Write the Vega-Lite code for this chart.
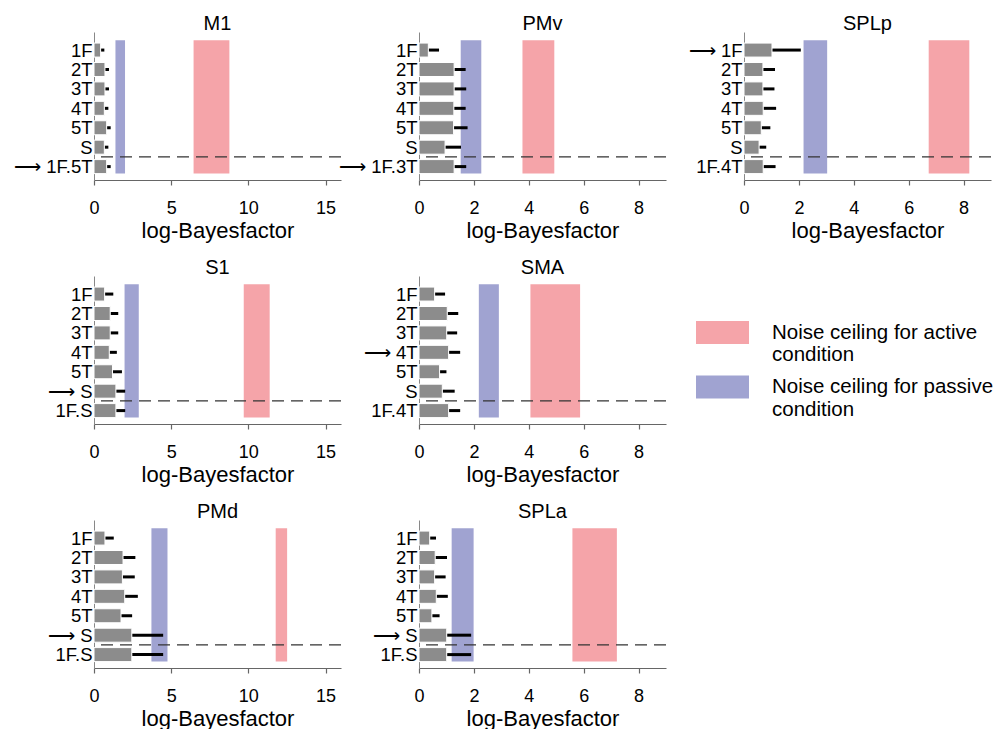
{
  "$schema": "https://vega.github.io/schema/vega-lite/v6.json",
  "padding": {"left": 13, "top": 14, "right": 0, "bottom": 0},
  "datasets": {
    "bars": [
      {"panel": "M1", "idx": 0, "model": "1F", "value": 0.43, "upper": 0.67},
      {"panel": "M1", "idx": 1, "model": "2T", "value": 0.71, "upper": 0.97},
      {"panel": "M1", "idx": 2, "model": "3T", "value": 0.71, "upper": 0.97},
      {"panel": "M1", "idx": 3, "model": "4T", "value": 0.67, "upper": 0.93},
      {"panel": "M1", "idx": 4, "model": "5T", "value": 0.82, "upper": 1.08},
      {"panel": "M1", "idx": 5, "model": "S", "value": 0.67, "upper": 0.93},
      {"panel": "M1", "idx": 6, "model": "1F.5T", "value": 0.82, "upper": 1.08},
      {"panel": "PMv", "idx": 0, "model": "1F", "value": 0.34, "upper": 0.73},
      {"panel": "PMv", "idx": 1, "model": "2T", "value": 1.28, "upper": 1.70},
      {"panel": "PMv", "idx": 2, "model": "3T", "value": 1.28, "upper": 1.72},
      {"panel": "PMv", "idx": 3, "model": "4T", "value": 1.27, "upper": 1.70},
      {"panel": "PMv", "idx": 4, "model": "5T", "value": 1.26, "upper": 1.77},
      {"panel": "PMv", "idx": 5, "model": "S", "value": 0.95, "upper": 1.53},
      {"panel": "PMv", "idx": 6, "model": "1F.3T", "value": 1.28, "upper": 1.72},
      {"panel": "SPLp", "idx": 0, "model": "1F", "value": 1.02, "upper": 2.07},
      {"panel": "SPLp", "idx": 1, "model": "2T", "value": 0.69, "upper": 1.13},
      {"panel": "SPLp", "idx": 2, "model": "3T", "value": 0.69, "upper": 1.11},
      {"panel": "SPLp", "idx": 3, "model": "4T", "value": 0.70, "upper": 1.17},
      {"panel": "SPLp", "idx": 4, "model": "5T", "value": 0.63, "upper": 0.96},
      {"panel": "SPLp", "idx": 5, "model": "S", "value": 0.55, "upper": 0.81},
      {"panel": "SPLp", "idx": 6, "model": "1F.4T", "value": 0.70, "upper": 1.15},
      {"panel": "S1", "idx": 0, "model": "1F", "value": 0.69, "upper": 1.25},
      {"panel": "S1", "idx": 1, "model": "2T", "value": 1.05, "upper": 1.57},
      {"panel": "S1", "idx": 2, "model": "3T", "value": 1.05, "upper": 1.57},
      {"panel": "S1", "idx": 3, "model": "4T", "value": 0.99, "upper": 1.48},
      {"panel": "S1", "idx": 4, "model": "5T", "value": 1.20, "upper": 1.81},
      {"panel": "S1", "idx": 5, "model": "S", "value": 1.42, "upper": 2.02},
      {"panel": "S1", "idx": 6, "model": "1F.S", "value": 1.42, "upper": 2.02},
      {"panel": "SMA", "idx": 0, "model": "1F", "value": 0.57, "upper": 0.95},
      {"panel": "SMA", "idx": 1, "model": "2T", "value": 1.03, "upper": 1.43},
      {"panel": "SMA", "idx": 2, "model": "3T", "value": 1.01, "upper": 1.39},
      {"panel": "SMA", "idx": 3, "model": "4T", "value": 1.08, "upper": 1.50},
      {"panel": "SMA", "idx": 4, "model": "5T", "value": 0.75, "upper": 1.00},
      {"panel": "SMA", "idx": 5, "model": "S", "value": 0.85, "upper": 1.30},
      {"panel": "SMA", "idx": 6, "model": "1F.4T", "value": 1.08, "upper": 1.50},
      {"panel": "PMd", "idx": 0, "model": "1F", "value": 0.71, "upper": 1.28},
      {"panel": "PMd", "idx": 1, "model": "2T", "value": 1.88, "upper": 2.68},
      {"panel": "PMd", "idx": 2, "model": "3T", "value": 1.84, "upper": 2.64},
      {"panel": "PMd", "idx": 3, "model": "4T", "value": 1.99, "upper": 2.84},
      {"panel": "PMd", "idx": 4, "model": "5T", "value": 1.75, "upper": 2.47},
      {"panel": "PMd", "idx": 5, "model": "S", "value": 2.45, "upper": 4.48},
      {"panel": "PMd", "idx": 6, "model": "1F.S", "value": 2.45, "upper": 4.48},
      {"panel": "SPLa", "idx": 0, "model": "1F", "value": 0.39, "upper": 0.62},
      {"panel": "SPLa", "idx": 1, "model": "2T", "value": 0.59, "upper": 1.02},
      {"panel": "SPLa", "idx": 2, "model": "3T", "value": 0.57, "upper": 0.97},
      {"panel": "SPLa", "idx": 3, "model": "4T", "value": 0.63, "upper": 1.05},
      {"panel": "SPLa", "idx": 4, "model": "5T", "value": 0.47, "upper": 0.75},
      {"panel": "SPLa", "idx": 5, "model": "S", "value": 1.01, "upper": 1.90},
      {"panel": "SPLa", "idx": 6, "model": "1F.S", "value": 1.01, "upper": 1.90}
    ],
    "ceil": [
      {"panel": "M1", "cond": "passive", "lo": 1.39, "hi": 2.01},
      {"panel": "M1", "cond": "active", "lo": 6.45, "hi": 8.77},
      {"panel": "PMv", "cond": "passive", "lo": 1.52, "hi": 2.27},
      {"panel": "PMv", "cond": "active", "lo": 3.77, "hi": 4.93},
      {"panel": "SPLp", "cond": "passive", "lo": 2.17, "hi": 3.03},
      {"panel": "SPLp", "cond": "active", "lo": 6.73, "hi": 8.21},
      {"panel": "S1", "cond": "passive", "lo": 1.98, "hi": 2.90},
      {"panel": "S1", "cond": "active", "lo": 9.70, "hi": 11.38},
      {"panel": "SMA", "cond": "passive", "lo": 2.18, "hi": 2.91},
      {"panel": "SMA", "cond": "active", "lo": 4.06, "hi": 5.87},
      {"panel": "PMd", "cond": "passive", "lo": 3.72, "hi": 4.76},
      {"panel": "PMd", "cond": "active", "lo": 11.77, "hi": 12.51},
      {"panel": "SPLa", "cond": "passive", "lo": 1.19, "hi": 1.99},
      {"panel": "SPLa", "cond": "active", "lo": 5.59, "hi": 7.21}
    ],
    "one": [{}]
  },
  "columns": 3,
  "bounds": "flush",
  "spacing": {"row": 96, "column": 78},
  "concat": [
    {
      "width": 247, "height": 148, "title": {"text": "M1", "offset": -2},
      "layer": [
        {"data": {"name": "ceil"}, "transform": [{"filter": "datum.panel == 'M1'"}], "mark": {"type": "rect"},
         "encoding": {
           "x": {"field": "lo", "type": "quantitative", "scale": {"domain": [0, 16], "nice": false, "zero": false}, "axis": {"values": [0, 5, 10, 15], "title": "log-Bayesfactor"}},
           "x2": {"field": "hi"},
           "y": {"datum": -0.5, "type": "quantitative", "scale": {"domain": [-0.93, 6.69], "nice": false, "zero": false, "padding": 0, "reverse": true}, "axis": {"values": [0, 1, 2, 3, 4, 5, 6], "title": null, "labelOverlap": false, "labelExpr": "['1F','2T','3T','4T','5T','S','\u27f6 1F.5T'][datum.value]"}},
           "y2": {"datum": 6.35},
           "color": {"field": "cond", "type": "nominal", "scale": {"domain": ["active", "passive"], "range": ["#f5a4a9", "#a0a3d1"]}, "legend": {"orient": "none", "legendX": 617, "legendY": 289, "title": null, "symbolType": "M-2.304,-1H2.304V1H-2.304Z", "symbolSize": 529, "symbolStrokeWidth": 0, "symbolOpacity": 1, "labelFontSize": 20.5, "labelOffset": 38, "rowPadding": 9.5, "labelLimit": 400, "labelExpr": "datum.value == 'active' ? ['Noise ceiling for active', 'condition'] : ['Noise ceiling for passive', 'condition']"}}
         }},
        {"data": {"name": "bars"}, "transform": [{"filter": "datum.panel == 'M1'"}], "mark": {"type": "rule", "strokeWidth": 3, "color": "black"},
         "encoding": {"x": {"field": "value", "type": "quantitative"}, "x2": {"field": "upper"}, "y": {"field": "idx", "type": "quantitative", "axis": {"values": [0, 1, 2, 3, 4, 5, 6], "title": null, "labelOverlap": false, "labelExpr": "['1F','2T','3T','4T','5T','S','\u27f6 1F.5T'][datum.value]"}}}},
        {"data": {"name": "bars"}, "transform": [{"filter": "datum.panel == 'M1'"}], "mark": {"type": "bar", "orient": "horizontal", "size": 14, "color": "#8c8c8c", "stroke": "white", "strokeWidth": 1},
         "encoding": {"x": {"field": "value", "type": "quantitative"}, "y": {"field": "idx", "type": "quantitative", "axis": {"values": [0, 1, 2, 3, 4, 5, 6], "title": null, "labelOverlap": false, "labelExpr": "['1F','2T','3T','4T','5T','S','\u27f6 1F.5T'][datum.value]"}}}},
        {"data": {"name": "one"}, "mark": {"type": "rule", "strokeDash": [12, 7], "color": "#333333", "strokeWidth": 1.3},
         "encoding": {"y": {"datum": 5.5, "type": "quantitative", "axis": {"values": [0, 1, 2, 3, 4, 5, 6], "title": null, "labelOverlap": false, "labelExpr": "['1F','2T','3T','4T','5T','S','\u27f6 1F.5T'][datum.value]"}}}}
      ]
    },
    {
      "width": 247, "height": 148, "title": {"text": "PMv", "offset": -2},
      "layer": [
        {"data": {"name": "ceil"}, "transform": [{"filter": "datum.panel == 'PMv'"}], "mark": {"type": "rect"},
         "encoding": {
           "x": {"field": "lo", "type": "quantitative", "scale": {"domain": [0, 9], "nice": false, "zero": false}, "axis": {"values": [0, 2, 4, 6, 8], "title": "log-Bayesfactor"}},
           "x2": {"field": "hi"},
           "y": {"datum": -0.5, "type": "quantitative", "scale": {"domain": [-0.93, 6.69], "nice": false, "zero": false, "padding": 0, "reverse": true}, "axis": {"values": [0, 1, 2, 3, 4, 5, 6], "title": null, "labelOverlap": false, "labelExpr": "['1F','2T','3T','4T','5T','S','\u27f6 1F.3T'][datum.value]"}},
           "y2": {"datum": 6.35},
           "color": {"field": "cond", "type": "nominal", "scale": {"domain": ["active", "passive"], "range": ["#f5a4a9", "#a0a3d1"]}}
         }},
        {"data": {"name": "bars"}, "transform": [{"filter": "datum.panel == 'PMv'"}], "mark": {"type": "rule", "strokeWidth": 3, "color": "black"},
         "encoding": {"x": {"field": "value", "type": "quantitative"}, "x2": {"field": "upper"}, "y": {"field": "idx", "type": "quantitative", "axis": {"values": [0, 1, 2, 3, 4, 5, 6], "title": null, "labelOverlap": false, "labelExpr": "['1F','2T','3T','4T','5T','S','\u27f6 1F.3T'][datum.value]"}}}},
        {"data": {"name": "bars"}, "transform": [{"filter": "datum.panel == 'PMv'"}], "mark": {"type": "bar", "orient": "horizontal", "size": 14, "color": "#8c8c8c", "stroke": "white", "strokeWidth": 1},
         "encoding": {"x": {"field": "value", "type": "quantitative"}, "y": {"field": "idx", "type": "quantitative", "axis": {"values": [0, 1, 2, 3, 4, 5, 6], "title": null, "labelOverlap": false, "labelExpr": "['1F','2T','3T','4T','5T','S','\u27f6 1F.3T'][datum.value]"}}}},
        {"data": {"name": "one"}, "mark": {"type": "rule", "strokeDash": [12, 7], "color": "#333333", "strokeWidth": 1.3},
         "encoding": {"y": {"datum": 5.5, "type": "quantitative", "axis": {"values": [0, 1, 2, 3, 4, 5, 6], "title": null, "labelOverlap": false, "labelExpr": "['1F','2T','3T','4T','5T','S','\u27f6 1F.3T'][datum.value]"}}}}
      ]
    },
    {
      "width": 247, "height": 148, "title": {"text": "SPLp", "offset": -2},
      "layer": [
        {"data": {"name": "ceil"}, "transform": [{"filter": "datum.panel == 'SPLp'"}], "mark": {"type": "rect"},
         "encoding": {
           "x": {"field": "lo", "type": "quantitative", "scale": {"domain": [0, 9], "nice": false, "zero": false}, "axis": {"values": [0, 2, 4, 6, 8], "title": "log-Bayesfactor"}},
           "x2": {"field": "hi"},
           "y": {"datum": -0.5, "type": "quantitative", "scale": {"domain": [-0.93, 6.69], "nice": false, "zero": false, "padding": 0, "reverse": true}, "axis": {"values": [0, 1, 2, 3, 4, 5, 6], "title": null, "labelOverlap": false, "labelExpr": "['\u27f6 1F','2T','3T','4T','5T','S','1F.4T'][datum.value]"}},
           "y2": {"datum": 6.35},
           "color": {"field": "cond", "type": "nominal", "scale": {"domain": ["active", "passive"], "range": ["#f5a4a9", "#a0a3d1"]}}
         }},
        {"data": {"name": "bars"}, "transform": [{"filter": "datum.panel == 'SPLp'"}], "mark": {"type": "rule", "strokeWidth": 3, "color": "black"},
         "encoding": {"x": {"field": "value", "type": "quantitative"}, "x2": {"field": "upper"}, "y": {"field": "idx", "type": "quantitative", "axis": {"values": [0, 1, 2, 3, 4, 5, 6], "title": null, "labelOverlap": false, "labelExpr": "['\u27f6 1F','2T','3T','4T','5T','S','1F.4T'][datum.value]"}}}},
        {"data": {"name": "bars"}, "transform": [{"filter": "datum.panel == 'SPLp'"}], "mark": {"type": "bar", "orient": "horizontal", "size": 14, "color": "#8c8c8c", "stroke": "white", "strokeWidth": 1},
         "encoding": {"x": {"field": "value", "type": "quantitative"}, "y": {"field": "idx", "type": "quantitative", "axis": {"values": [0, 1, 2, 3, 4, 5, 6], "title": null, "labelOverlap": false, "labelExpr": "['\u27f6 1F','2T','3T','4T','5T','S','1F.4T'][datum.value]"}}}},
        {"data": {"name": "one"}, "mark": {"type": "rule", "strokeDash": [12, 7], "color": "#333333", "strokeWidth": 1.3},
         "encoding": {"y": {"datum": 5.5, "type": "quantitative", "axis": {"values": [0, 1, 2, 3, 4, 5, 6], "title": null, "labelOverlap": false, "labelExpr": "['\u27f6 1F','2T','3T','4T','5T','S','1F.4T'][datum.value]"}}}}
      ]
    },
    {
      "width": 247, "height": 148, "title": {"text": "S1", "offset": -2},
      "layer": [
        {"data": {"name": "ceil"}, "transform": [{"filter": "datum.panel == 'S1'"}], "mark": {"type": "rect"},
         "encoding": {
           "x": {"field": "lo", "type": "quantitative", "scale": {"domain": [0, 16], "nice": false, "zero": false}, "axis": {"values": [0, 5, 10, 15], "title": "log-Bayesfactor"}},
           "x2": {"field": "hi"},
           "y": {"datum": -0.5, "type": "quantitative", "scale": {"domain": [-0.93, 6.69], "nice": false, "zero": false, "padding": 0, "reverse": true}, "axis": {"values": [0, 1, 2, 3, 4, 5, 6], "title": null, "labelOverlap": false, "labelExpr": "['1F','2T','3T','4T','5T','\u27f6 S','1F.S'][datum.value]"}},
           "y2": {"datum": 6.35},
           "color": {"field": "cond", "type": "nominal", "scale": {"domain": ["active", "passive"], "range": ["#f5a4a9", "#a0a3d1"]}}
         }},
        {"data": {"name": "bars"}, "transform": [{"filter": "datum.panel == 'S1'"}], "mark": {"type": "rule", "strokeWidth": 3, "color": "black"},
         "encoding": {"x": {"field": "value", "type": "quantitative"}, "x2": {"field": "upper"}, "y": {"field": "idx", "type": "quantitative", "axis": {"values": [0, 1, 2, 3, 4, 5, 6], "title": null, "labelOverlap": false, "labelExpr": "['1F','2T','3T','4T','5T','\u27f6 S','1F.S'][datum.value]"}}}},
        {"data": {"name": "bars"}, "transform": [{"filter": "datum.panel == 'S1'"}], "mark": {"type": "bar", "orient": "horizontal", "size": 14, "color": "#8c8c8c", "stroke": "white", "strokeWidth": 1},
         "encoding": {"x": {"field": "value", "type": "quantitative"}, "y": {"field": "idx", "type": "quantitative", "axis": {"values": [0, 1, 2, 3, 4, 5, 6], "title": null, "labelOverlap": false, "labelExpr": "['1F','2T','3T','4T','5T','\u27f6 S','1F.S'][datum.value]"}}}},
        {"data": {"name": "one"}, "mark": {"type": "rule", "strokeDash": [12, 7], "color": "#333333", "strokeWidth": 1.3},
         "encoding": {"y": {"datum": 5.5, "type": "quantitative", "axis": {"values": [0, 1, 2, 3, 4, 5, 6], "title": null, "labelOverlap": false, "labelExpr": "['1F','2T','3T','4T','5T','\u27f6 S','1F.S'][datum.value]"}}}}
      ]
    },
    {
      "width": 247, "height": 148, "title": {"text": "SMA", "offset": -2},
      "layer": [
        {"data": {"name": "ceil"}, "transform": [{"filter": "datum.panel == 'SMA'"}], "mark": {"type": "rect"},
         "encoding": {
           "x": {"field": "lo", "type": "quantitative", "scale": {"domain": [0, 9], "nice": false, "zero": false}, "axis": {"values": [0, 2, 4, 6, 8], "title": "log-Bayesfactor"}},
           "x2": {"field": "hi"},
           "y": {"datum": -0.5, "type": "quantitative", "scale": {"domain": [-0.93, 6.69], "nice": false, "zero": false, "padding": 0, "reverse": true}, "axis": {"values": [0, 1, 2, 3, 4, 5, 6], "title": null, "labelOverlap": false, "labelExpr": "['1F','2T','3T','\u27f6 4T','5T','S','1F.4T'][datum.value]"}},
           "y2": {"datum": 6.35},
           "color": {"field": "cond", "type": "nominal", "scale": {"domain": ["active", "passive"], "range": ["#f5a4a9", "#a0a3d1"]}}
         }},
        {"data": {"name": "bars"}, "transform": [{"filter": "datum.panel == 'SMA'"}], "mark": {"type": "rule", "strokeWidth": 3, "color": "black"},
         "encoding": {"x": {"field": "value", "type": "quantitative"}, "x2": {"field": "upper"}, "y": {"field": "idx", "type": "quantitative", "axis": {"values": [0, 1, 2, 3, 4, 5, 6], "title": null, "labelOverlap": false, "labelExpr": "['1F','2T','3T','\u27f6 4T','5T','S','1F.4T'][datum.value]"}}}},
        {"data": {"name": "bars"}, "transform": [{"filter": "datum.panel == 'SMA'"}], "mark": {"type": "bar", "orient": "horizontal", "size": 14, "color": "#8c8c8c", "stroke": "white", "strokeWidth": 1},
         "encoding": {"x": {"field": "value", "type": "quantitative"}, "y": {"field": "idx", "type": "quantitative", "axis": {"values": [0, 1, 2, 3, 4, 5, 6], "title": null, "labelOverlap": false, "labelExpr": "['1F','2T','3T','\u27f6 4T','5T','S','1F.4T'][datum.value]"}}}},
        {"data": {"name": "one"}, "mark": {"type": "rule", "strokeDash": [12, 7], "color": "#333333", "strokeWidth": 1.3},
         "encoding": {"y": {"datum": 5.5, "type": "quantitative", "axis": {"values": [0, 1, 2, 3, 4, 5, 6], "title": null, "labelOverlap": false, "labelExpr": "['1F','2T','3T','\u27f6 4T','5T','S','1F.4T'][datum.value]"}}}}
      ]
    },
    {
      "width": 247, "height": 148,
      "data": {"name": "one"},
      "mark": {"type": "point", "opacity": 0},
      "encoding": {}
    },
    {
      "width": 247, "height": 148, "title": {"text": "PMd", "offset": -2},
      "layer": [
        {"data": {"name": "ceil"}, "transform": [{"filter": "datum.panel == 'PMd'"}], "mark": {"type": "rect"},
         "encoding": {
           "x": {"field": "lo", "type": "quantitative", "scale": {"domain": [0, 16], "nice": false, "zero": false}, "axis": {"values": [0, 5, 10, 15], "title": "log-Bayesfactor"}},
           "x2": {"field": "hi"},
           "y": {"datum": -0.5, "type": "quantitative", "scale": {"domain": [-0.93, 6.69], "nice": false, "zero": false, "padding": 0, "reverse": true}, "axis": {"values": [0, 1, 2, 3, 4, 5, 6], "title": null, "labelOverlap": false, "labelExpr": "['1F','2T','3T','4T','5T','\u27f6 S','1F.S'][datum.value]"}},
           "y2": {"datum": 6.35},
           "color": {"field": "cond", "type": "nominal", "scale": {"domain": ["active", "passive"], "range": ["#f5a4a9", "#a0a3d1"]}}
         }},
        {"data": {"name": "bars"}, "transform": [{"filter": "datum.panel == 'PMd'"}], "mark": {"type": "rule", "strokeWidth": 3, "color": "black"},
         "encoding": {"x": {"field": "value", "type": "quantitative"}, "x2": {"field": "upper"}, "y": {"field": "idx", "type": "quantitative", "axis": {"values": [0, 1, 2, 3, 4, 5, 6], "title": null, "labelOverlap": false, "labelExpr": "['1F','2T','3T','4T','5T','\u27f6 S','1F.S'][datum.value]"}}}},
        {"data": {"name": "bars"}, "transform": [{"filter": "datum.panel == 'PMd'"}], "mark": {"type": "bar", "orient": "horizontal", "size": 14, "color": "#8c8c8c", "stroke": "white", "strokeWidth": 1},
         "encoding": {"x": {"field": "value", "type": "quantitative"}, "y": {"field": "idx", "type": "quantitative", "axis": {"values": [0, 1, 2, 3, 4, 5, 6], "title": null, "labelOverlap": false, "labelExpr": "['1F','2T','3T','4T','5T','\u27f6 S','1F.S'][datum.value]"}}}},
        {"data": {"name": "one"}, "mark": {"type": "rule", "strokeDash": [12, 7], "color": "#333333", "strokeWidth": 1.3},
         "encoding": {"y": {"datum": 5.5, "type": "quantitative", "axis": {"values": [0, 1, 2, 3, 4, 5, 6], "title": null, "labelOverlap": false, "labelExpr": "['1F','2T','3T','4T','5T','\u27f6 S','1F.S'][datum.value]"}}}}
      ]
    },
    {
      "width": 247, "height": 148, "title": {"text": "SPLa", "offset": -2},
      "layer": [
        {"data": {"name": "ceil"}, "transform": [{"filter": "datum.panel == 'SPLa'"}], "mark": {"type": "rect"},
         "encoding": {
           "x": {"field": "lo", "type": "quantitative", "scale": {"domain": [0, 9], "nice": false, "zero": false}, "axis": {"values": [0, 2, 4, 6, 8], "title": "log-Bayesfactor"}},
           "x2": {"field": "hi"},
           "y": {"datum": -0.5, "type": "quantitative", "scale": {"domain": [-0.93, 6.69], "nice": false, "zero": false, "padding": 0, "reverse": true}, "axis": {"values": [0, 1, 2, 3, 4, 5, 6], "title": null, "labelOverlap": false, "labelExpr": "['1F','2T','3T','4T','5T','\u27f6 S','1F.S'][datum.value]"}},
           "y2": {"datum": 6.35},
           "color": {"field": "cond", "type": "nominal", "scale": {"domain": ["active", "passive"], "range": ["#f5a4a9", "#a0a3d1"]}}
         }},
        {"data": {"name": "bars"}, "transform": [{"filter": "datum.panel == 'SPLa'"}], "mark": {"type": "rule", "strokeWidth": 3, "color": "black"},
         "encoding": {"x": {"field": "value", "type": "quantitative"}, "x2": {"field": "upper"}, "y": {"field": "idx", "type": "quantitative", "axis": {"values": [0, 1, 2, 3, 4, 5, 6], "title": null, "labelOverlap": false, "labelExpr": "['1F','2T','3T','4T','5T','\u27f6 S','1F.S'][datum.value]"}}}},
        {"data": {"name": "bars"}, "transform": [{"filter": "datum.panel == 'SPLa'"}], "mark": {"type": "bar", "orient": "horizontal", "size": 14, "color": "#8c8c8c", "stroke": "white", "strokeWidth": 1},
         "encoding": {"x": {"field": "value", "type": "quantitative"}, "y": {"field": "idx", "type": "quantitative", "axis": {"values": [0, 1, 2, 3, 4, 5, 6], "title": null, "labelOverlap": false, "labelExpr": "['1F','2T','3T','4T','5T','\u27f6 S','1F.S'][datum.value]"}}}},
        {"data": {"name": "one"}, "mark": {"type": "rule", "strokeDash": [12, 7], "color": "#333333", "strokeWidth": 1.3},
         "encoding": {"y": {"datum": 5.5, "type": "quantitative", "axis": {"values": [0, 1, 2, 3, 4, 5, 6], "title": null, "labelOverlap": false, "labelExpr": "['1F','2T','3T','4T','5T','\u27f6 S','1F.S'][datum.value]"}}}}
      ]
    }
  ],
  "config": {
    "font": "Liberation Sans",
    "view": {"stroke": null},
    "title": {"fontSize": 20, "fontWeight": "normal", "color": "black", "font": "Liberation Sans"},
    "axisX": {"domainColor": "#666666", "domainWidth": 1.2, "tickColor": "#666666", "tickWidth": 1.2, "tickSize": 5, "labelFontSize": 18, "labelPadding": 14, "labelColor": "black", "labelFont": "Liberation Sans", "titleFont": "Liberation Sans", "titleFontSize": 22, "titleFontWeight": "normal", "titleColor": "black", "titlePadding": 3, "grid": false, "labelFlush": false},
    "axisY": {"domainColor": "#888888", "domainWidth": 1, "ticks": false, "labelFontSize": 18.5, "labelPadding": 2, "labelColor": "black", "labelFont": "Liberation Sans", "grid": false, "labelOverlap": false},
    "legend": {"labelFont": "Liberation Sans", "labelColor": "black"}
  }
}
